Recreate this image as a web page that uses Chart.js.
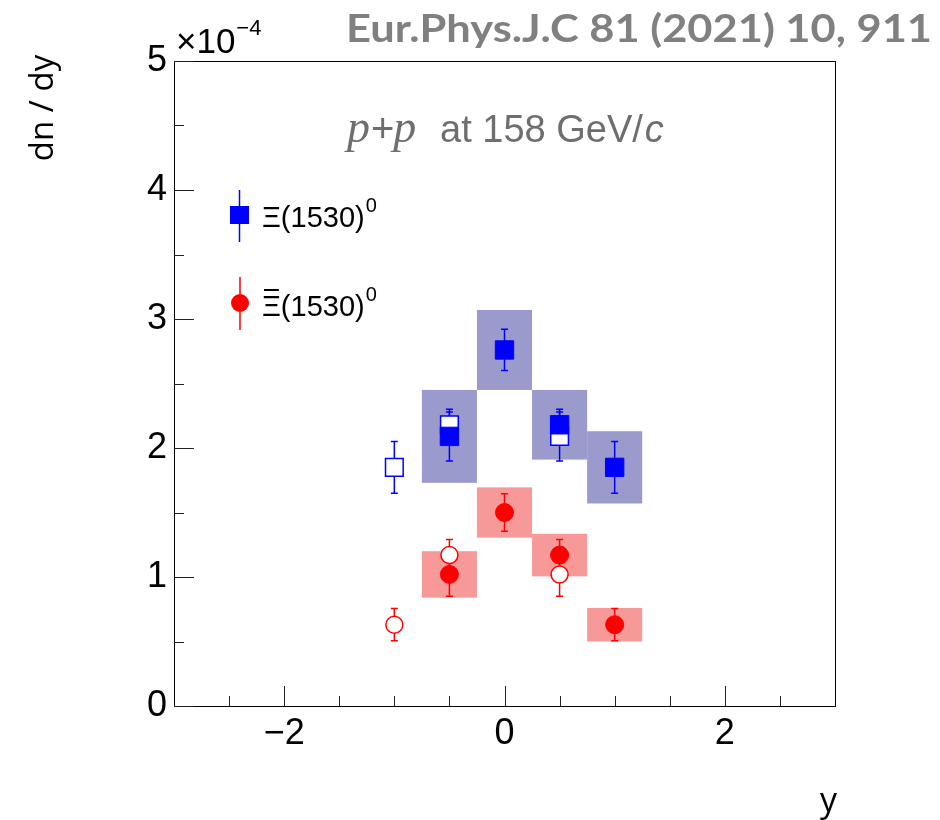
<!DOCTYPE html>
<html>
<head>
<meta charset="utf-8">
<script src="https://cdn.jsdelivr.net/npm/chart.js@4.4.1/dist/chart.umd.min.js"></script>
<style>
  html, body { margin: 0; padding: 0; background: #ffffff; }
  canvas { display: block; }
</style>
</head>
<body>
<canvas id="c" width="940" height="820"></canvas>
<script>
// Rapidity bins and dn/dy values (in units of 1e-4)
// Xi(1530)0 measured points
const xiY       = [-0.5, 0, 0.5, 1];
const xiVal     = [2.09, 2.76, 2.18, 1.85];
const xiStat    = [0.19, 0.16, 0.12, 0.20];
const xiSys     = [0.36, 0.31, 0.27, 0.28];
// Xi(1530)0 points reflected around midrapidity
const xiRefY    = [-1, -0.5, 0.5];
const xiRefVal  = [1.85, 2.18, 2.09];
const xiRefStat = [0.20, 0.12, 0.19];

// anti-Xi(1530)0 measured points
const axY       = [-0.5, 0, 0.5, 1];
const axVal     = [1.02, 1.50, 1.17, 0.63];
const axStat    = [0.17, 0.145, 0.12, 0.125];
const axSys     = [0.18, 0.195, 0.165, 0.13];
// anti-Xi(1530)0 reflected points
const axRefY    = [-1, -0.5, 0.5];
const axRefVal  = [0.63, 1.17, 1.02];
const axRefStat = [0.125, 0.12, 0.17];

// Axis ticks
const xTickValues = [-2, 0, 2];
const xTickLabels = ['\u22122', '0', '2'];
const xMinorTicks = [-2.5, -1.5, -1, -0.5, 0.5, 1, 1.5, 2.5];
const yTickValues = [0, 1, 2, 3, 4, 5];
const yTickLabels = ['0', '1', '2', '3', '4', '5'];
const yMinorTicks = [0.5, 1.5, 2.5, 3.5, 4.5];

const BLUE = '#0000ff';
const RED = '#ff0000';
const BLUE_BOX = '#9a9bcc';
const RED_BOX = '#f79999';

function pts(xs, ys) { return xs.map((x, i) => ({ x: x, y: ys[i] })); }

// Systematic boxes and statistical error bars
const errorPlugin = {
  id: 'errorPlugin',
  beforeDatasetsDraw(chart) {
    const ctx = chart.ctx;
    const xs = chart.scales.x, ys = chart.scales.y;
    const area = chart.chartArea;
    ctx.save();
    ctx.beginPath();
    ctx.rect(area.left, area.top, area.right - area.left, area.bottom - area.top);
    ctx.clip();
    chart.data.datasets.forEach(ds => {
      if (!ds.sys) return;
      ctx.fillStyle = ds.boxColor;
      ds.data.forEach((p, i) => {
        const x0 = xs.getPixelForValue(p.x - 0.25);
        const x1 = xs.getPixelForValue(p.x + 0.25);
        const y0 = ys.getPixelForValue(p.y + ds.sys[i]);
        const y1 = ys.getPixelForValue(p.y - ds.sys[i]);
        ctx.fillRect(x0, y0, x1 - x0, y1 - y0);
      });
    });
    chart.data.datasets.forEach(ds => {
      if (!ds.stat) return;
      ctx.strokeStyle = ds.errColor;
      ctx.lineWidth = 1.5;
      ds.data.forEach((p, i) => {
        const px = xs.getPixelForValue(p.x);
        const yTop = ys.getPixelForValue(p.y + ds.stat[i]);
        const yBot = ys.getPixelForValue(p.y - ds.stat[i]);
        ctx.beginPath();
        ctx.moveTo(px, yTop); ctx.lineTo(px, yBot);
        ctx.moveTo(px - 3.5, yTop); ctx.lineTo(px + 3.5, yTop);
        ctx.moveTo(px - 3.5, yBot); ctx.lineTo(px + 3.5, yBot);
        ctx.stroke();
      });
    });
    ctx.restore();
  }
};

// Frame and inward tick marks
const framePlugin = {
  id: 'framePlugin',
  afterDatasetsDraw(chart) {
    const ctx = chart.ctx;
    const a = chart.chartArea;
    const xs = chart.scales.x, ys = chart.scales.y;
    ctx.save();
    ctx.strokeStyle = '#000';
    ctx.lineWidth = 1;
    ctx.strokeRect(Math.round(a.left) + 0.5, Math.round(a.top) + 0.5,
                   Math.round(a.right - a.left), Math.round(a.bottom - a.top));
    ctx.strokeStyle = '#222';
    ctx.beginPath();
    xTickValues.forEach(v => {
      const px = Math.round(xs.getPixelForValue(v)) + 0.5;
      ctx.moveTo(px, a.bottom); ctx.lineTo(px, a.bottom - 20);
    });
    xMinorTicks.forEach(v => {
      const px = Math.round(xs.getPixelForValue(v)) + 0.5;
      ctx.moveTo(px, a.bottom); ctx.lineTo(px, a.bottom - 10);
    });
    yTickValues.forEach(v => {
      const py = Math.round(ys.getPixelForValue(v)) + 0.5;
      ctx.moveTo(a.left, py); ctx.lineTo(a.left + 20, py);
    });
    yMinorTicks.forEach(v => {
      const py = Math.round(ys.getPixelForValue(v)) + 0.5;
      ctx.moveTo(a.left, py); ctx.lineTo(a.left + 10, py);
    });
    ctx.stroke();
    ctx.restore();
  }
};

// Axis titles, exponent, legend and header texts
const textPlugin = {
  id: 'textPlugin',
  afterDraw(chart) {
    const ctx = chart.ctx;
    ctx.save();
    ctx.textAlign = 'left';
    ctx.textBaseline = 'alphabetic';

    // Header
    ctx.fillStyle = '#808080';
    ctx.font = 'bold 38px Lato';
    const header = 'Eur.Phys.J.C 81 (2021) 10, 911';
    const hw = ctx.measureText(header).width;
    ctx.save();
    ctx.translate(346, 42);
    ctx.scale(586 / hw, 1);
    ctx.fillText(header, 0, 0);
    ctx.restore();

    // Exponent of the y axis
    ctx.fillStyle = '#000';
    ctx.font = '35px "Liberation Sans"';
    ctx.fillText('\u00d710', 176, 53);
    const ew = ctx.measureText('\u00d710').width;
    ctx.font = '22px "Liberation Sans"';
    ctx.fillText('\u22124', 176 + ew + 1, 35);

    // y-axis title
    ctx.save();
    ctx.translate(53, 108);
    ctx.rotate(-Math.PI / 2);
    ctx.textAlign = 'center';
    ctx.font = '33px "Open Sans"';
    ctx.fillText('dn / dy', 0, 0);
    ctx.restore();

    // x-axis title
    ctx.textAlign = 'right';
    ctx.font = '34px "Open Sans"';
    ctx.fillText('y', 837, 812);
    ctx.textAlign = 'left';

    // Collision label
    ctx.fillStyle = '#6e6e6e';
    let x = 347;
    const base = 142;
    const seg = (t, f) => { ctx.font = f; ctx.fillText(t, x, base); x += ctx.measureText(t).width; };
    seg('p', 'italic 46px "Liberation Serif"');
    x += 1;
    seg('+', '40px "Liberation Sans"');
    x -= 1;
    seg('p', 'italic 46px "Liberation Serif"');
    x = 440;
    seg('at 158 GeV/', '38px "Liberation Sans"');
    x += 2;
    seg('c', 'italic 38px "Liberation Sans"');

    // Legend
    ctx.lineWidth = 1.5;
    // Xi
    ctx.strokeStyle = BLUE;
    ctx.beginPath(); ctx.moveTo(239.5, 190); ctx.lineTo(239.5, 242); ctx.stroke();
    ctx.fillStyle = BLUE;
    ctx.fillRect(230, 206, 19, 18);
    // anti-Xi
    ctx.strokeStyle = RED;
    ctx.beginPath(); ctx.moveTo(240, 277); ctx.lineTo(240, 330); ctx.stroke();
    ctx.fillStyle = RED;
    ctx.beginPath(); ctx.arc(240, 303, 9, 0, Math.PI * 2); ctx.fill();

    ctx.fillStyle = '#000';
    ctx.font = '29px "Liberation Sans"';
    ctx.fillText('\u039e(1530)', 262, 227);
    const w1 = ctx.measureText('\u039e(1530)').width;
    ctx.fillText('\u039e(1530)', 262, 316);
    const xiW = ctx.measureText('\u039e').width;
    ctx.font = '20px "Liberation Sans"';
    ctx.fillText('0', 262 + w1 + 1, 212);
    ctx.fillText('0', 262 + w1 + 1, 301);
    ctx.strokeStyle = '#000';
    ctx.lineWidth = 2;
    ctx.beginPath(); ctx.moveTo(264, 290); ctx.lineTo(262 + xiW - 2, 290); ctx.stroke();

    ctx.restore();
  }
};

const tickFont = { family: '"Liberation Sans"', size: 36 };

new Chart(document.getElementById('c'), {
  type: 'scatter',
  data: {
    datasets: [
      {
        label: 'Xi(1530)0',
        data: pts(xiY, xiVal), stat: xiStat, sys: xiSys,
        errColor: BLUE, boxColor: BLUE_BOX,
        pointStyle: 'rect', pointRadius: 13, pointBorderWidth: 1,
        backgroundColor: BLUE, borderColor: BLUE, order: 0
      },
      {
        label: 'Xi(1530)0 reflected',
        data: pts(xiRefY, xiRefVal), stat: xiRefStat,
        errColor: BLUE,
        pointStyle: 'rect', pointRadius: 12.5, pointBorderWidth: 1.5,
        backgroundColor: '#ffffff', borderColor: BLUE, order: 1
      },
      {
        label: 'anti-Xi(1530)0',
        data: pts(axY, axVal), stat: axStat, sys: axSys,
        errColor: RED, boxColor: RED_BOX,
        pointStyle: 'circle', pointRadius: 9, pointBorderWidth: 1,
        backgroundColor: RED, borderColor: RED, order: 0
      },
      {
        label: 'anti-Xi(1530)0 reflected',
        data: pts(axRefY, axRefVal), stat: axRefStat,
        errColor: RED,
        pointStyle: 'circle', pointRadius: 8.5, pointBorderWidth: 1.5,
        backgroundColor: '#ffffff', borderColor: RED, order: 1
      }
    ]
  },
  options: {
    responsive: false,
    animation: false,
    events: [],
    layout: { padding: { left: 0, right: 105, top: 61, bottom: 0 } },
    plugins: { legend: { display: false }, tooltip: { enabled: false } },
    scales: {
      x: {
        type: 'linear', min: -3, max: 3,
        afterFit(s) { s.height = 114; },
        afterBuildTicks(s) { s.ticks = xTickValues.map(v => ({ value: v })); },
        grid: { display: false, drawTicks: false },
        border: { display: false },
        ticks: {
          font: tickFont, color: '#000', padding: 6, maxRotation: 0,
          callback: (v) => xTickLabels[xTickValues.indexOf(v)]
        }
      },
      y: {
        type: 'linear', min: 0, max: 5,
        afterFit(s) { s.width = 174; },
        afterBuildTicks(s) { s.ticks = yTickValues.map(v => ({ value: v })); },
        grid: { display: false, drawTicks: false },
        border: { display: false },
        ticks: {
          font: tickFont, color: '#000', padding: 7,
          callback: (v) => yTickLabels[yTickValues.indexOf(v)]
        }
      }
    }
  },
  plugins: [errorPlugin, framePlugin, textPlugin]
});
</script>
</body>
</html>
